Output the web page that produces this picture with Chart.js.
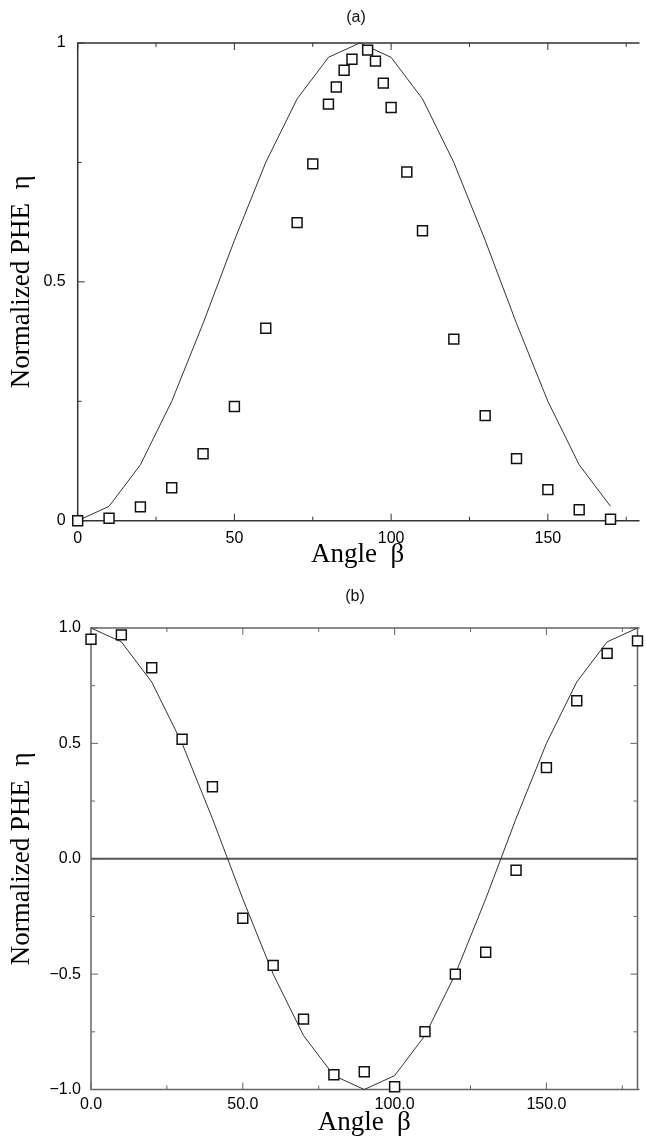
<!DOCTYPE html>
<html>
<head>
<meta charset="utf-8">
<script src="https://cdn.jsdelivr.net/npm/chart.js@4/dist/chart.umd.min.js"></script>
<style>
  body { margin: 0; background: #fff; overflow: hidden; width: 646px; height: 1140px; position: relative; }
  #chartA { position: absolute; left: 0; top: 0; }
  #chartB { position: absolute; left: 0; top: 575px; }
</style>
</head>
<body>
<canvas id="chartA" width="646" height="575"></canvas>
<canvas id="chartB" width="646" height="565"></canvas>
<script>
// (a) model curve, sampled every 10 degrees
const curveAnglesA = [0, 10, 20, 30, 40, 50, 60, 70, 80, 90, 100, 110, 120, 130, 140, 150, 160, 170];
const curveValuesA = [0, 0.03, 0.117, 0.25, 0.413, 0.587, 0.75, 0.883, 0.97, 1.0, 0.97, 0.883, 0.75, 0.587, 0.413, 0.25, 0.117, 0.03];

// (a) measured points
const pointAnglesA = [0, 10, 20, 30, 40, 50, 60, 70, 75, 80, 82.5, 85, 87.5, 92.5, 95, 97.5, 100, 105, 110, 120, 130, 140, 150, 160, 170];
const pointValuesA = [0, 0.005, 0.029, 0.069, 0.14, 0.239, 0.403, 0.624, 0.747, 0.872, 0.908, 0.943, 0.966, 0.985, 0.962, 0.916, 0.865, 0.73, 0.607, 0.38, 0.22, 0.13, 0.065, 0.023, 0.003];

// (b) curve and points share the same angles
const anglesB = [0, 10, 20, 30, 40, 50, 60, 70, 80, 90, 100, 110, 120, 130, 140, 150, 160, 170, 180];
const curveValuesB = [1.0, 0.94, 0.766, 0.5, 0.174, -0.174, -0.5, -0.766, -0.94, -1.0, -0.94, -0.766, -0.5, -0.174, 0.174, 0.5, 0.766, 0.94, 1.0];
const pointValuesB = [0.951, 0.97, 0.828, 0.518, 0.312, -0.258, -0.462, -0.695, -0.936, -0.923, -0.988, -0.749, -0.5, -0.405, -0.05, 0.395, 0.685, 0.89, 0.944];

// zero reference line in (b)
const zeroAngles = [0, 180];
const zeroValues = [0, 0];

const xTitle = "Angle  \u03b2";
const yTitle = "Normalized PHE  \u03b7";

const tickFont = { family: "Liberation Sans", size: 16 };
const titleFont = { family: "Liberation Serif", size: 27, lineHeight: 1 };

const toXY = (xs, ys) => xs.map((x, i) => ({ x: x, y: ys[i] }));

// box around the plot with short inward ticks; (a) runs off the page on the right
const frameTicks = {
  id: "frameTicks",
  beforeDatasetsDraw(chart, args, opts) {
    const { ctx, chartArea: { left, right, top, bottom }, scales: { x, y } } = chart;
    ctx.save();
    ctx.strokeStyle = opts.color;
    ctx.lineWidth = opts.width;
    ctx.beginPath();
    ctx.moveTo(right + 2, top);
    ctx.lineTo(left, top);
    ctx.lineTo(left, bottom);
    ctx.lineTo(right + 2, bottom);
    if (opts.closed) {
      ctx.moveTo(right, top);
      ctx.lineTo(right, bottom);
    }
    ctx.stroke();
    ctx.lineWidth = 1;
    ctx.beginPath();
    x.ticks.forEach(t => {
      const px = x.getPixelForValue(t.value);
      const len = t.label ? 7 : 4;
      ctx.moveTo(px, bottom); ctx.lineTo(px, bottom - len);
      ctx.moveTo(px, top); ctx.lineTo(px, top + len);
    });
    y.ticks.forEach(t => {
      const py = y.getPixelForValue(t.value);
      const len = t.label ? 7 : 4;
      ctx.moveTo(left, py); ctx.lineTo(left + len, py);
      if (opts.closed) {
        ctx.moveTo(right, py); ctx.lineTo(right - len, py);
      }
    });
    ctx.stroke();
    ctx.restore();
  }
};

// "(a)" / "(b)" above each panel
const panelLabel = {
  id: "panelLabel",
  afterDraw(chart, args, opts) {
    const ctx = chart.ctx;
    ctx.save();
    ctx.font = "16px 'Liberation Sans'";
    ctx.fillStyle = "#111";
    ctx.textAlign = "center";
    ctx.textBaseline = "middle";
    ctx.fillText(opts.text, opts.x, opts.y);
    ctx.restore();
  }
};

function pointSet(data) {
  return {
    data: data,
    showLine: false,
    pointStyle: "rect",
    pointRadius: 7,
    pointBorderWidth: 1.5,
    pointBorderColor: "#111",
    pointBackgroundColor: "#fff",
    clip: false
  };
}

function lineSet(data, color, width) {
  return {
    data: data,
    showLine: true,
    borderColor: color,
    borderWidth: width,
    pointRadius: 0,
    tension: 0,
    clip: false
  };
}

function xAxis(max, labelFn, height, tickPad, titlePad) {
  return {
    type: "linear", min: 0, max: max,
    border: { display: false },
    grid: { display: false, drawTicks: false, tickLength: 0 },
    ticks: { stepSize: 25, autoSkip: false, maxRotation: 0, includeBounds: false, padding: tickPad, color: "#000", font: tickFont, callback: labelFn },
    title: { display: true, text: xTitle, color: "#000", font: titleFont, padding: { top: 0, bottom: titlePad } },
    afterFit: s => { s.height = height; }
  };
}

function yAxis(min, max, labelFn, width, tickPad) {
  return {
    type: "linear", min: min, max: max,
    border: { display: false },
    grid: { display: false, drawTicks: false, tickLength: 0 },
    ticks: { stepSize: 0.25, autoSkip: false, includeBounds: false, padding: tickPad, color: "#000", font: tickFont, callback: labelFn },
    title: { display: true, text: yTitle, color: "#000", font: titleFont, padding: { top: 8.5, bottom: 0 } },
    afterFit: s => { s.width = width; }
  };
}

const chartA = new Chart(document.getElementById("chartA"), {
  type: "scatter",
  data: {
    datasets: [
      pointSet(toXY(pointAnglesA, pointValuesA)),
      lineSet(toXY(curveAnglesA, curveValuesA), "#333", 1)
    ]
  },
  options: {
    responsive: false,
    animation: false,
    layout: { padding: { top: 43, right: 0, left: 0, bottom: 0 } },
    plugins: {
      legend: { display: false },
      tooltip: { enabled: false },
      frameTicks: { color: "#333", width: 1.5, closed: false },
      panelLabel: { text: "(a)", x: 356, y: 17.5 }
    },
    scales: {
      x: xAxis(178.6, v => (v % 50 === 0 ? String(v) : ""), 54.3, 8, 6.5),
      y: yAxis(0, 1, v => (v === 0 ? "0" : v === 0.5 ? "0.5" : v === 1 ? "1" : ""), 77.7, 12)
    }
  },
  plugins: [frameTicks, panelLabel]
});

const chartB = new Chart(document.getElementById("chartB"), {
  type: "scatter",
  data: {
    datasets: [
      pointSet(toXY(anglesB, pointValuesB)),
      lineSet(toXY(anglesB, curveValuesB), "#333", 1),
      lineSet(toXY(zeroAngles, zeroValues), "#555", 2)
    ]
  },
  options: {
    responsive: false,
    animation: false,
    layout: { padding: { top: 53, right: 2.5, left: 0, bottom: 0 } },
    plugins: {
      legend: { display: false },
      tooltip: { enabled: false },
      frameTicks: { color: "#666", width: 1.5, closed: true },
      panelLabel: { text: "(b)", x: 355, y: 22 }
    },
    scales: {
      x: xAxis(180, v => (v % 50 === 0 ? v.toFixed(1) : ""), 50.5, 5.5, 3.5),
      y: yAxis(-1, 1, v => {
        if (Math.abs(v * 2 - Math.round(v * 2)) > 1e-9) return "";
        if (v < 0) return "\u2212" + Math.abs(v).toFixed(1);
        return Math.abs(v).toFixed(1);
      }, 91, 10)
    }
  },
  plugins: [frameTicks, panelLabel]
});
</script>
</body>
</html>
